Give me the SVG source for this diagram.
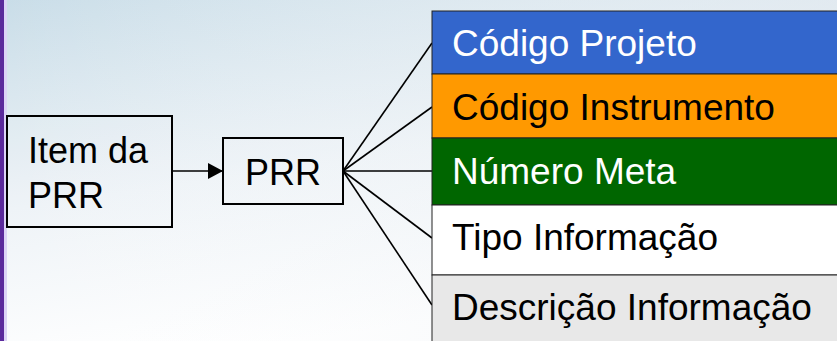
<svg xmlns="http://www.w3.org/2000/svg" width="837" height="341" viewBox="0 0 837 341">
  <defs>
    <linearGradient id="bg" x1="0" y1="0" x2="0.35" y2="1">
      <stop offset="0" stop-color="#c9dde8"/>
      <stop offset="0.55" stop-color="#eef3f7"/>
      <stop offset="1" stop-color="#ffffff"/>
    </linearGradient>
    <linearGradient id="bgr" x1="0" y1="0" x2="1" y2="0">
      <stop offset="0" stop-color="#ffffff" stop-opacity="0"/>
      <stop offset="1" stop-color="#e4eaf0" stop-opacity="0.6"/>
    </linearGradient>
    <marker id="arr" viewBox="0 0 15 16" refX="15" refY="8" markerWidth="15" markerHeight="16" markerUnits="userSpaceOnUse" orient="auto">
      <path d="M0,0 L15,8 L0,16 Z" fill="#000"/>
    </marker>
    <style>
      .box { fill: #ffffff; fill-opacity: 0.05; stroke: #000; stroke-width: 2; }
      .lbl { font-family: "Liberation Sans", Arial, sans-serif; font-size: 36px; fill: #000; }
      .row { stroke: #222; stroke-width: 1; }
      .rt { font-family: "Liberation Sans", Arial, sans-serif; font-size: 37px; }
      .conn { stroke: #000; stroke-width: 1.6; fill: none; }
    </style>
  </defs>
  <rect x="0" y="0" width="837" height="341" fill="url(#bg)"/>
  <rect x="0" y="0" width="837" height="341" fill="url(#bgr)"/>
  <rect x="0" y="0" width="4" height="341" fill="#5b2a9c"/>
  <rect x="4" y="0" width="3" height="341" fill="#dcd4f6"/>

  <g id="connectors">
    <line class="conn" x1="172" y1="171" x2="223" y2="171" marker-end="url(#arr)"/>
    <line class="conn" x1="343" y1="171" x2="432" y2="43"/>
    <line class="conn" x1="343" y1="171" x2="432" y2="107"/>
    <line class="conn" x1="343" y1="171" x2="432" y2="171"/>
    <line class="conn" x1="343" y1="171" x2="432" y2="238"/>
    <line class="conn" x1="343" y1="171" x2="432" y2="305"/>
  </g>

  <g id="item-da-prr">
    <rect class="box" x="7" y="116" width="165" height="111"/>
    <text class="lbl" x="28" y="163">Item da</text>
    <text class="lbl" x="28" y="208">PRR</text>
  </g>

  <g id="prr">
    <rect class="box" x="223" y="138" width="120" height="66"/>
    <text class="lbl" x="245" y="185">PRR</text>
  </g>

  <g id="codigo-projeto">
    <rect class="row" x="432" y="11" width="410" height="63" fill="#3366cc"/>
    <text class="rt" x="452" y="56" fill="#ffffff">Código Projeto</text>
  </g>
  <g id="codigo-instrumento">
    <rect class="row" x="432" y="74" width="410" height="64" fill="#ff9900"/>
    <text class="rt" x="452" y="120" fill="#000000">Código Instrumento</text>
  </g>
  <g id="numero-meta">
    <rect class="row" x="432" y="138" width="410" height="67" fill="#006600"/>
    <text class="rt" x="452" y="184" fill="#ffffff">Número Meta</text>
  </g>
  <g id="tipo-informacao">
    <rect class="row" x="432" y="205" width="410" height="70" fill="#ffffff"/>
    <text class="rt" x="452" y="250" fill="#000000">Tipo Informação</text>
  </g>
  <g id="descricao-informacao">
    <rect class="row" x="432" y="275" width="410" height="72" fill="#e8e8e8"/>
    <text class="rt" x="452" y="320" fill="#000000">Descrição Informação</text>
  </g>
</svg>
